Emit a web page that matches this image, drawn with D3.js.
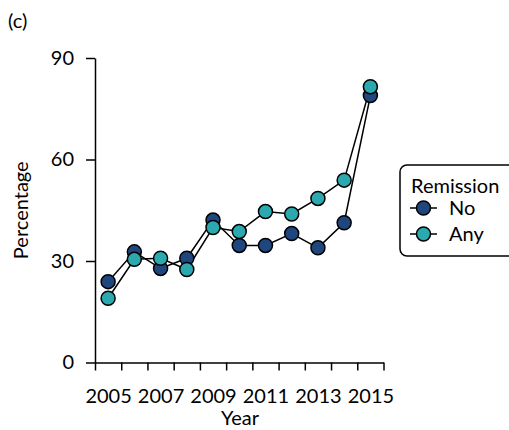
<!DOCTYPE html>
<html>
<head>
<meta charset="utf-8">
<script src="https://cdn.jsdelivr.net/npm/d3@7"></script>
<style>
  html, body { margin: 0; padding: 0; background: #fff; }
  svg { display: block; }
  text { font-family: Lato, "Open Sans", sans-serif; fill: #000; }
</style>
</head>
<body>
<svg id="chart" width="509" height="430"></svg>
<script>
const years = [2005, 2006, 2007, 2008, 2009, 2010, 2011, 2012, 2013, 2014, 2015];
const noRemission = [23.9, 32.7, 27.8, 30.8, 42.1, 34.6, 34.6, 38.1, 33.9, 41.3, 78.9];
const anyRemission = [19.0, 30.5, 30.8, 27.5, 39.9, 38.7, 44.6, 43.9, 48.5, 53.9, 81.5];
const seriesNames = ["No", "Any"];
const seriesColors = ["#1f467d", "#2ca9af"];
const yTicks = [0, 30, 60, 90];
const xLabelYears = [2005, 2007, 2009, 2011, 2013, 2015];
const xBoundaries = [2004.5, 2005.5, 2006.5, 2007.5, 2008.5, 2009.5, 2010.5, 2011.5, 2012.5, 2013.5, 2014.5, 2015.5];

const svg = d3.select("#chart");
const fs = 20;

const x = d3.scaleLinear().domain([2004.5, 2015.5]).range([95, 383.5]);
const y = d3.scaleLinear().domain([0, 90]).range([362.5, 58]);

svg.append("text").attr("x", 8).attr("y", 28).attr("font-size", fs).text("(c)");

const yAxis = svg.append("g").attr("transform", `translate(${x.range()[0]},0)`)
  .call(d3.axisLeft(y).tickValues(yTicks).tickSize(9).tickSizeOuter(0).tickPadding(12));
yAxis.selectAll("path, line").attr("stroke", "#000").attr("stroke-width", 1.5);
yAxis.selectAll("text").attr("font-size", fs).attr("font-family", "Lato");

const xAxis = svg.append("g").attr("transform", `translate(0,${y(0)})`)
  .call(d3.axisBottom(x).tickValues(xBoundaries).tickSize(8).tickSizeOuter(0).tickFormat(""));
xAxis.selectAll("path, line").attr("stroke", "#000").attr("stroke-width", 1.5);

const xLab = svg.append("g").attr("transform", `translate(0,${y(0)})`)
  .call(d3.axisBottom(x).tickValues(xLabelYears).tickSize(0).tickPadding(26).tickFormat(d3.format("d")));
xLab.select(".domain").remove();
xLab.selectAll("text").attr("font-size", fs).attr("font-family", "Lato");

svg.append("text").attr("x", 240).attr("y", 425).attr("text-anchor", "middle")
  .attr("font-size", fs).text("Year");
svg.append("text").attr("transform", `translate(28,${(y(0) + y(90)) / 2}) rotate(-90)`)
  .attr("text-anchor", "middle").attr("font-size", fs).text("Percentage");

const series = [noRemission, anyRemission];
const line = d3.line().x((d, i) => x(years[i])).y(d => y(d));
const linesG = svg.append("g");
series.forEach(s => {
  linesG.append("path").datum(s).attr("d", line)
    .attr("fill", "none").attr("stroke", "#000").attr("stroke-width", 1.5);
});
series.forEach((s, k) => {
  svg.append("g").selectAll("circle").data(s).join("circle")
    .attr("cx", (d, i) => x(years[i])).attr("cy", d => y(d)).attr("r", 7)
    .attr("fill", seriesColors[k]).attr("stroke", "#000").attr("stroke-width", 1.5);
});

const lg = svg.append("g");
lg.append("rect").attr("x", 400).attr("y", 165).attr("width", 116).attr("height", 91)
  .attr("rx", 7).attr("fill", "#fff").attr("stroke", "#000").attr("stroke-width", 1.5);
lg.append("text").attr("x", 411).attr("y", 193).attr("font-size", fs).text("Remission");
seriesNames.forEach((name, k) => {
  const cy = 208 + k * 26;
  lg.append("line").attr("x1", 410).attr("x2", 437).attr("y1", cy).attr("y2", cy)
    .attr("stroke", "#000").attr("stroke-width", 1.5);
  lg.append("circle").attr("cx", 423.5).attr("cy", cy).attr("r", 7)
    .attr("fill", seriesColors[k]).attr("stroke", "#000").attr("stroke-width", 1.5);
  lg.append("text").attr("x", 449).attr("y", cy + 7).attr("font-size", fs).text(name);
});
</script>
</body>
</html>
